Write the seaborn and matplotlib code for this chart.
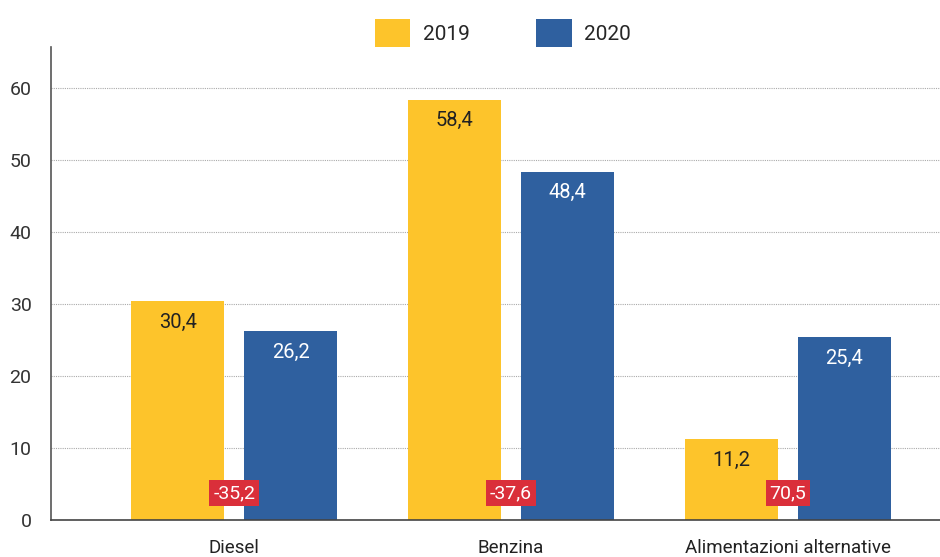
import matplotlib
matplotlib.use("Agg")
import matplotlib.pyplot as plt
import seaborn as sns
import pandas as pd
from matplotlib.patches import Patch

categories = ["Diesel", "Benzina", "Alimentazioni alternative"]
years = ["2019", "2020"]
values_2019 = [30.4, 58.4, 11.2]
values_2020 = [26.2, 48.4, 25.4]
changes = ["-35,2", "-37,6", "70,5"]
yticks = [0, 10, 20, 30, 40, 50, 60]

colors = {"2019": "#FDC42B", "2020": "#2F609F"}

df = pd.DataFrame({
    "cat": categories * 2,
    "year": ["2019"] * 3 + ["2020"] * 3,
    "val": values_2019 + values_2020,
})

sns.set_theme(style="white")
plt.rcParams["font.family"] = ["Roboto", "DejaVu Sans"]

fig = plt.figure(figsize=(9.4, 5.57), dpi=100)
ax = fig.add_axes([0.0543, 0.0664, 0.9457, 0.8492])

sns.barplot(data=df, x="cat", y="val", hue="year", order=categories,
            hue_order=years, palette=colors, width=0.816, gap=0.176,
            ax=ax, legend=False, saturation=1, linewidth=0)

ax.set_xlim(-0.662, 2.55)
ax.set_ylim(0, 65.7)
ax.set_yticks(yticks)
ax.set_yticklabels([str(t) for t in yticks], fontsize=14, color="#333333")
ax.tick_params(axis="y", length=0, pad=14)
ax.tick_params(axis="x", length=0, pad=14, labelsize=13.5, labelcolor="#222222")
ax.set_xlabel("")
ax.set_ylabel("")
ax.yaxis.grid(True, linestyle=(0, (1, 1)), color="#aaaaaa", linewidth=0.8)
ax.set_axisbelow(True)
for s in ["top", "right"]:
    ax.spines[s].set_visible(False)
ax.spines["left"].set_color("#555555")
ax.spines["left"].set_linewidth(1.2)
ax.spines["bottom"].set_color("#444444")
ax.spines["bottom"].set_linewidth(1.2)

# value labels
for cont, yr in zip(ax.containers, years):
    tcol = "#222222" if yr == "2019" else "white"
    for bar in cont:
        h = bar.get_height()
        ax.text(bar.get_x() + bar.get_width() / 2, h - 2.9,
                f"{h:.1f}".replace(".", ","), ha="center", va="center",
                fontsize=14.5, color=tcol)

# change labels
for i, ch in enumerate(changes):
    ax.text(i, 3.75, ch, ha="center", va="center", fontsize=14, color="white",
            bbox=dict(boxstyle="square,pad=0.2", facecolor="#DA2F3A",
                      edgecolor="none"))

handles = [Patch(facecolor=colors[y], edgecolor="none") for y in years]
fig.legend(handles, years, loc="upper center", bbox_to_anchor=(0.535, 1.0),
           ncol=2, frameon=False, fontsize=15, handlelength=1.7,
           handleheight=1.7, handletextpad=0.6, columnspacing=3.2)

fig.savefig("out.png", dpi=100)
